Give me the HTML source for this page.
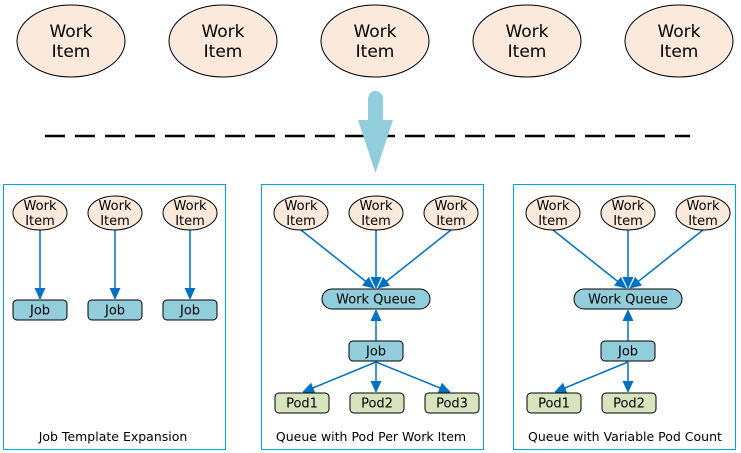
<!DOCTYPE html>
<html><head><style>body{margin:0;background:#fff}svg{display:block}</style></head><body>
<svg width="741" height="453" xmlns="http://www.w3.org/2000/svg" font-family="'DejaVu Sans','Liberation Sans',sans-serif">
<defs>
<marker id="a" markerWidth="10" markerHeight="12" refX="11" refY="5.5" orient="auto" markerUnits="userSpaceOnUse"><path d="M0,0 L12,5.5 L0,11 z" fill="#0070c0"/></marker>
<g id="wi"><ellipse cx="0" cy="0" rx="27" ry="17" fill="#fbe9dc" stroke="#000" stroke-width="1"/><text x="0" y="-3" font-size="13" text-anchor="middle">Work</text><text x="0" y="12" font-size="13" text-anchor="middle">Item</text></g>
<g id="big"><ellipse cx="0" cy="0" rx="54" ry="36" fill="#fbe9dc" stroke="#000" stroke-width="1"/><text x="0" y="-4" font-size="17" text-anchor="middle">Work</text><text x="0" y="16" font-size="17" text-anchor="middle">Item</text></g>
<g id="job"><rect x="-27" y="-10" width="54" height="20" rx="4" fill="#92cddc" stroke="#000"/><text x="0" y="4.5" font-size="13" text-anchor="middle">Job</text></g>
</defs>
<use href="#big" x="71" y="41"/><use href="#big" x="223" y="41"/><use href="#big" x="375" y="41"/><use href="#big" x="527" y="41"/><use href="#big" x="679" y="41"/>
<line x1="45" y1="136" x2="690" y2="136" stroke="#000" stroke-width="2.5" stroke-dasharray="20,10"/>
<rect x="368" y="91" width="15" height="40" rx="7.5" fill="#92cddc"/>
<polygon points="358,120 393,120 375.5,173" fill="#92cddc"/>
<g fill="none" stroke="#00a0e0" stroke-width="1"><rect x="3.5" y="184.5" width="222" height="265"/><rect x="261.5" y="184.5" width="222" height="265"/><rect x="513.5" y="184.5" width="222" height="265"/></g>
<g stroke="#0070c0" stroke-width="1.5" marker-end="url(#a)">
<line x1="40" y1="230" x2="40" y2="299"/><line x1="115" y1="230" x2="115" y2="299"/><line x1="190" y1="230" x2="190" y2="299"/>
<line x1="301" y1="230" x2="374" y2="288"/><line x1="376" y1="230" x2="376" y2="288"/><line x1="451" y1="230" x2="378" y2="288"/>
<line x1="376" y1="341" x2="376" y2="310"/>
<line x1="376" y1="362" x2="303" y2="392"/><line x1="376" y1="362" x2="376" y2="392"/><line x1="376" y1="362" x2="450" y2="392"/>
<line x1="553" y1="230" x2="626" y2="288"/><line x1="628" y1="230" x2="628" y2="288"/><line x1="703" y1="230" x2="630" y2="288"/>
<line x1="628" y1="341" x2="628" y2="310"/>
<line x1="628" y1="362" x2="555" y2="392"/><line x1="628" y1="362" x2="628" y2="392"/>
</g>
<use href="#wi" x="40" y="213"/><use href="#wi" x="115" y="213"/><use href="#wi" x="190" y="213"/>
<use href="#job" x="40" y="310"/><use href="#job" x="115" y="310"/><use href="#job" x="190" y="310"/>
<use href="#wi" x="301" y="213"/><use href="#wi" x="376" y="213"/><use href="#wi" x="451" y="213"/>
<use href="#wi" x="553" y="213"/><use href="#wi" x="628" y="213"/><use href="#wi" x="703" y="213"/>
<g font-size="13" text-anchor="middle">
<rect x="322" y="289" width="108" height="20" rx="10" fill="#92cddc" stroke="#000"/><text x="376" y="303.5">Work Queue</text>
<rect x="574" y="289" width="108" height="20" rx="10" fill="#92cddc" stroke="#000"/><text x="628" y="303.5">Work Queue</text>
</g>
<use href="#job" x="376" y="351"/><use href="#job" x="628" y="351"/>
<g font-size="13" text-anchor="middle">
<rect x="275" y="393" width="54" height="20" rx="4" fill="#d7e4bd" stroke="#000"/><text x="302" y="407.5">Pod1</text>
<rect x="350" y="393" width="54" height="20" rx="4" fill="#d7e4bd" stroke="#000"/><text x="377" y="407.5">Pod2</text>
<rect x="425" y="393" width="54" height="20" rx="4" fill="#d7e4bd" stroke="#000"/><text x="452" y="407.5">Pod3</text>
<rect x="527" y="393" width="54" height="20" rx="4" fill="#d7e4bd" stroke="#000"/><text x="554" y="407.5">Pod1</text>
<rect x="602" y="393" width="54" height="20" rx="4" fill="#d7e4bd" stroke="#000"/><text x="629" y="407.5">Pod2</text>
<text x="113" y="441" font-size="12.5">Job Template Expansion</text>
<text x="371" y="441" font-size="12.5">Queue with Pod Per Work Item</text>
<text x="625" y="441" font-size="12.5">Queue with Variable Pod Count</text>
</g>
</svg>
</body></html>
